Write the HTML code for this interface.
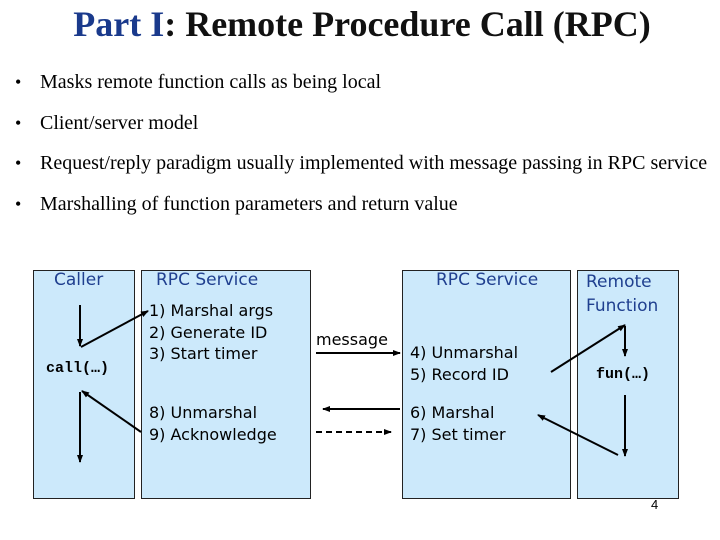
<!DOCTYPE html><html><head><style>
body{margin:0;width:720px;height:540px;background:#fff;position:relative;overflow:hidden;font-family:"Liberation Serif",serif}
.t{position:absolute;white-space:nowrap}
.b{position:absolute;background:#cce9fb;border:1px solid #222;box-sizing:border-box}
.s{font-family:"DejaVu Sans",sans-serif;font-size:16px;color:#000}
.h{font-family:"DejaVu Sans",sans-serif;font-size:17px;color:#1f3f8f}
.m{font-family:"Liberation Mono",monospace;font-size:15px;font-weight:bold}
.u{position:absolute;left:40px;font-size:20px;white-space:nowrap}
.d{position:absolute;left:15px;font-size:18px}
</style></head><body>
<div class="t" style="left:0;width:724px;text-align:center;top:3px;font-size:36px;font-weight:bold;color:#111"><span style="color:#1a3a8c">Part I</span>: Remote Procedure Call (RPC)</div>
<div class="d" style="top:72px">•</div><div class="u" style="top:71px">Masks remote function calls as being local</div>
<div class="d" style="top:113px">•</div><div class="u" style="top:112px">Client/server model</div>
<div class="d" style="top:153px">•</div><div class="u" style="top:152px">Request/reply paradigm usually implemented with message passing in RPC service</div>
<div class="d" style="top:194px">•</div><div class="u" style="top:193px">Marshalling of function parameters and return value</div>
<div class="b" style="left:33px;top:270px;width:102px;height:229px"></div>
<div class="b" style="left:141px;top:270px;width:170px;height:229px"></div>
<div class="b" style="left:402px;top:270px;width:169px;height:229px"></div>
<div class="b" style="left:577px;top:270px;width:102px;height:229px"></div>
<div class="t h" style="left:54px;top:270px">Caller</div>
<div class="t h" style="left:156px;top:270px">RPC Service</div>
<div class="t h" style="left:436px;top:270px">RPC Service</div>
<div class="t h" style="left:586px;top:270px;line-height:24px">Remote<br>Function</div>
<div class="t s" style="left:149px;top:300px;line-height:21.5px">1) Marshal args<br>2) Generate ID<br>3) Start timer</div>
<div class="t s" style="left:149px;top:402px;line-height:21.5px">8) Unmarshal<br>9) Acknowledge</div>
<div class="t s" style="left:316px;top:330px">message</div>
<div class="t s" style="left:410px;top:342px;line-height:21.5px">4) Unmarshal<br>5) Record ID</div>
<div class="t s" style="left:410px;top:402px;line-height:21.5px">6) Marshal<br>7) Set timer</div>
<div class="t m" style="left:46px;top:360px">call(…)</div>
<div class="t m" style="left:596px;top:366px">fun(…)</div>
<div class="t" style="left:651px;top:497px;font-size:13px;font-family:'Liberation Sans',sans-serif">4</div>
<svg width="720" height="540" style="position:absolute;left:0;top:0">
<defs><marker id="a" markerWidth="8" markerHeight="8" refX="7" refY="4" orient="auto" markerUnits="userSpaceOnUse"><path d="M0,1 L8,4 L0,7 z" fill="#000"/></marker></defs>
<g stroke="#000" stroke-width="2" fill="none">
<line x1="80" y1="305" x2="80" y2="346" marker-end="url(#a)"/>
<line x1="81" y1="347" x2="148" y2="311" marker-end="url(#a)"/>
<line x1="141" y1="432" x2="82" y2="391" marker-end="url(#a)"/>
<line x1="80" y1="392" x2="80" y2="462" marker-end="url(#a)"/>
<line x1="316" y1="353" x2="400" y2="353" marker-end="url(#a)"/>
<line x1="400" y1="409" x2="323" y2="409" marker-end="url(#a)"/>
<line x1="316" y1="432" x2="391" y2="432" stroke-dasharray="6,4" marker-end="url(#a)"/>
<line x1="551" y1="372" x2="625" y2="325" marker-end="url(#a)"/>
<line x1="625" y1="326" x2="625" y2="356" marker-end="url(#a)"/>
<line x1="625" y1="395" x2="625" y2="456" marker-end="url(#a)"/>
<line x1="618" y1="455" x2="538" y2="415" marker-end="url(#a)"/>
</g></svg>
</body></html>
